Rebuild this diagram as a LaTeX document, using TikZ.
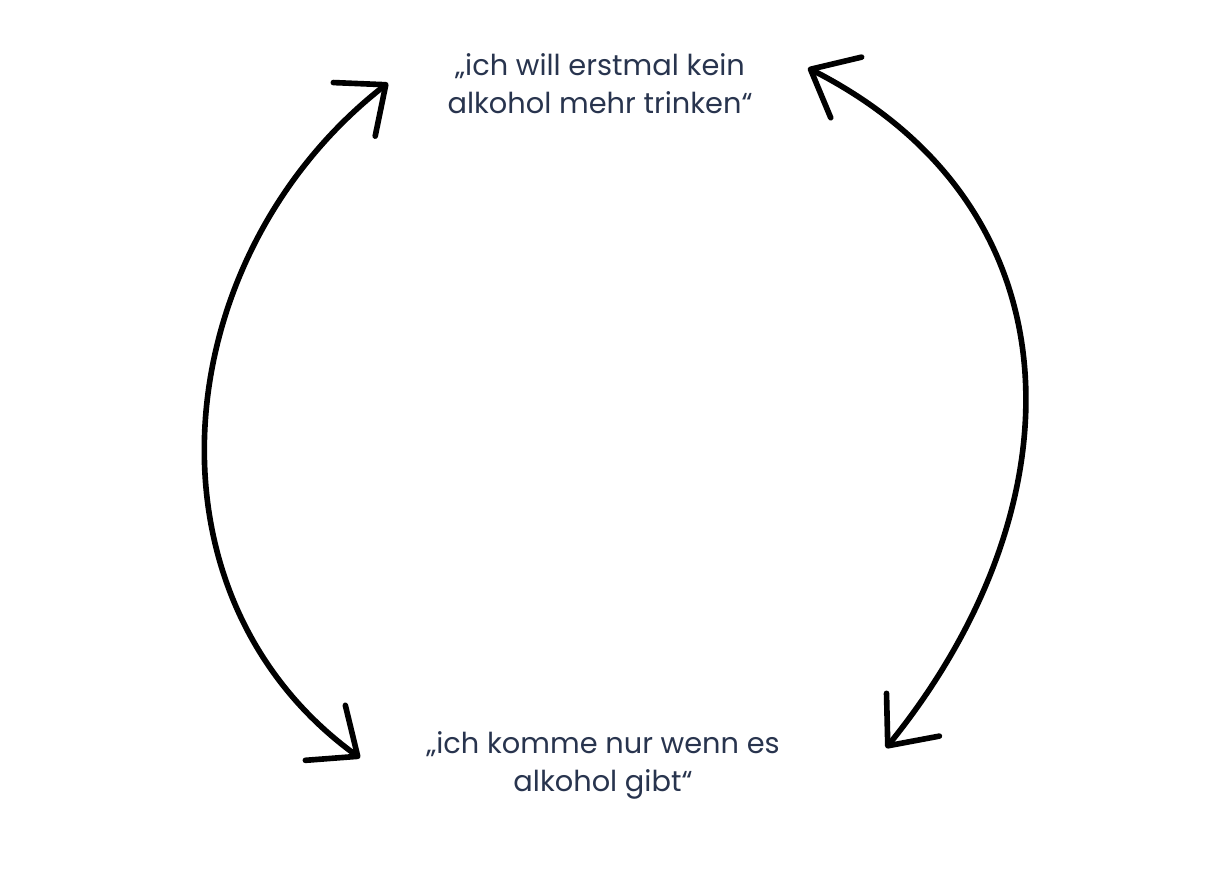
\documentclass[tikz,border=0pt]{standalone}
\usepackage{fontspec}
\setmainfont{Poppins}
\usetikzlibrary{arrows.meta}
\definecolor{quotenavy}{RGB}{40,52,78}
\tikzstyle{quote} = [text=quotenavy, align=center, font=\fontsize{20.5}{27}\selectfont]
\tikzstyle{arrow} = [line width=4pt, line cap=round,
  {Straight Barb[round,length=1cm,width=1.7cm]}-{Straight Barb[round,length=1cm,width=1.7cm]}]

\begin{document}
\begin{tikzpicture}[x=0.025cm, y=0.025cm]
\useasboundingbox (0,0) rectangle (1206,882);

\node (stop) [quote] at (600,798) {„ich will erstmal kein\\alkohol mehr trinken“};
\node (come) [quote] at (603,117) {„ich komme nur wenn es\\alkohol gibt“};

\coordinate (lt) at (388,799);
\coordinate (lb) at (360,124);
\coordinate (rt) at (808,814);
\coordinate (rb) at (886,134);

\draw [arrow] (lb) to[out=144, in=218, looseness=1.06] (lt);
\draw [arrow] (rt) to[out=-27, in=51, looseness=1.16] (rb);

\end{tikzpicture}
\end{document}
